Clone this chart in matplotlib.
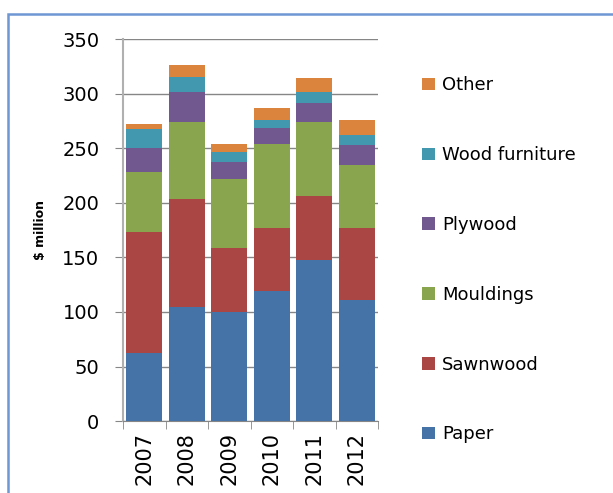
import numpy as np
import matplotlib
matplotlib.use("Agg")
import matplotlib.pyplot as plt
from matplotlib.patches import Rectangle

years = ["2007", "2008", "2009", "2010", "2011", "2012"]
paper = [62, 105, 100, 119, 148, 111]
sawnwood = [111, 99, 59, 58, 58, 66]
mouldings = [55, 70, 63, 77, 68, 58]
plywood = [22, 28, 16, 15, 18, 18]
wood_furniture = [18, 14, 9, 7, 10, 9]
other = [4, 11, 7, 11, 13, 14]

series = [
    ("Paper", paper, "#4572A7"),
    ("Sawnwood", sawnwood, "#AA4643"),
    ("Mouldings", mouldings, "#89A54E"),
    ("Plywood", plywood, "#71588F"),
    ("Wood furniture", wood_furniture, "#4198AF"),
    ("Other", other, "#DB843D"),
]

fig = plt.figure(figsize=(6.13, 4.93), dpi=100)
ax = fig.add_axes([0.2007, 0.146, 0.416, 0.774])

# outer chart frame (only left and top edges visible)
fig.patches.append(Rectangle((8 / 613, -0.2), 1.5, 1.2 - 14 / 493,
                             transform=fig.transFigure, fill=False,
                             edgecolor="#6E97D4", linewidth=1.8))

x = np.arange(len(years))
bottom = np.zeros(len(years))
for name, vals, col in series:
    ax.bar(x, vals, 0.85, bottom=bottom, color=col, label=name, zorder=3)
    bottom += np.array(vals)

ax.set_xlim(-0.5, len(years) - 0.5)
ax.set_ylim(0, 350)
ax.set_yticks(range(0, 351, 50))
ax.yaxis.grid(True, color="#868686", linewidth=1.0, zorder=0)
ax.set_xticks(x)
ax.set_xticklabels(years, rotation=90, fontsize=15)
ax.set_xticks(np.arange(-0.5, len(years)), minor=True)
ax.tick_params(axis="x", which="major", length=0, pad=8)
ax.tick_params(axis="x", which="minor", length=6, color="#868686")
ax.tick_params(axis="y", labelsize=14, length=6, color="#868686", pad=11)
for s in ["top", "right"]:
    ax.spines[s].set_visible(False)
ax.spines["left"].set_color("#B0B0B0")
ax.spines["left"].set_linewidth(1.5)
ax.spines["bottom"].set_color("#868686")

ax.set_ylabel("$ million", fontsize=9, fontweight="bold", labelpad=11)

handles, labels = ax.get_legend_handles_labels()
leg = fig.legend(handles[::-1], labels[::-1], loc="upper left",
                 bbox_to_anchor=(0.662, 0.878), frameon=False, fontsize=13,
                 labelspacing=2.87, handlelength=0.7, handleheight=0.7,
                 handletextpad=0.4)

fig.savefig("out.png", dpi=100)
